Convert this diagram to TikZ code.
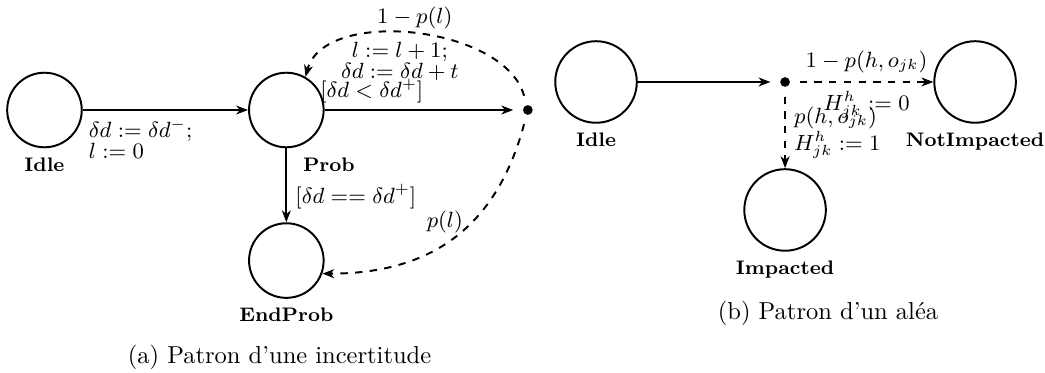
\documentclass[tikz,border=0pt]{standalone}
\usepackage{tikz}
\usetikzlibrary{arrows.meta,positioning}

\begin{document}
\begin{tikzpicture}[>={Stealth[length=4.8pt,width=3.6pt,inset=1.4pt]}, thick, on grid,
  every node/.style={font=\fontsize{8.7}{8.6}\selectfont, align=center},
  every label/.style={font=\footnotesize\bfseries},
  state/.style={draw, circle, minimum size=1.07cm, inner sep=0pt},
  bigstate/.style={state, minimum size=1.17cm},
  junction/.style={circle, fill, inner sep=1.4pt, outer sep=4pt}]
  \useasboundingbox (-0.638,-3.759) rectangle (14.354,1.578);
  % (a) incertitude
  \node[state, label=below:Idle] (idle) at (0,0) {};
  \node[state, right=3.47cm of idle, label={[xshift=6.1mm]below:Prob}] (prob) {};
  \node[junction, right=3.465cm of prob] (choice) {};
  \node[state, below=2.16cm of prob, label=below:EndProb] (endprob) {};
  \draw[->] (idle) -- node[pos=0.35, below, align=left] {$\delta d := \delta d^{-};$\\ $l := 0$} (prob);
  \draw[->] (prob) -- node[near start, above, yshift=-1pt] {$[\delta d < \delta d^{+}]$} (choice);
  \draw[->] (prob) -- node[pos=0.65, right] {$[\delta d == \delta d^{+}]$} (endprob);
  \draw[->, dashed] (choice) to[out=105, in=75, looseness=0.85]
    node[pos=0.5, above, yshift=-2pt] {$1 - p(l)$}
    node[pos=0.55, below] {$l := l + 1;$\\ $\delta d := \delta d + t$} (prob.60);
  \draw[->, dashed] (choice) to[out=-105, in=0, looseness=1.1]
    node[pos=0.4, left] {$p(l)$} (endprob.-20);
  \node[font=\normalsize] (capa) at (3.372,-3.544) {(a) Patron d'une incertitude};
  % (b) alea
  \node[bigstate, label=below:Idle] (idleb) at (7.913,0.402) {};
  \node[junction, right=2.712cm of idleb] (choiceb) {};
  \node[bigstate, right=2.726cm of choiceb, label=below:NotImpacted] (notimp) {};
  \node[bigstate, below=1.836cm of choiceb, label=below:Impacted] (imp) {};
  \draw[->] (idleb) -- (choiceb);
  \draw[->, dashed] (choiceb) -- node[above] {$1 - p(h, o_{jk})$} node[below] {$H^{h}_{jk} := 0$} (notimp);
  \draw[->, dashed] (choiceb) -- node[right, align=left] {$p(h, o_{jk})$\\ $H^{h}_{jk} := 1$} (imp);
  \node[font=\normalsize] (capb) at (11.241,-2.912) {(b) Patron d'un aléa};
\end{tikzpicture}
\end{document}
